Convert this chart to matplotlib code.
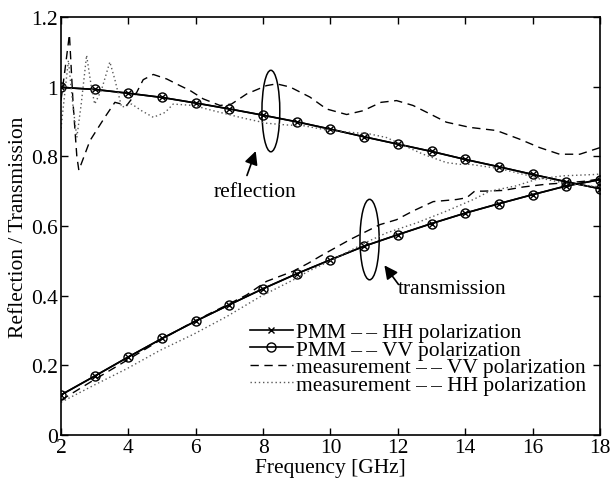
import numpy as np
import matplotlib
matplotlib.use("Agg")
from matplotlib import pyplot as plt
from matplotlib.patches import Ellipse

# frequências do modelo PMM (GHz)
freq_pmm = list(range(2, 19))

# PMM - reflexão e transmissão (HH e VV praticamente iguais)
refl_pmm = [0.998, 0.992, 0.981, 0.969, 0.953, 0.936, 0.918, 0.899, 0.878,
            0.856, 0.835, 0.814, 0.791, 0.770, 0.748, 0.727, 0.707]
trans_pmm = [0.115, 0.169, 0.224, 0.277, 0.327, 0.374, 0.420, 0.463, 0.503,
             0.542, 0.575, 0.607, 0.637, 0.664, 0.690, 0.715, 0.733]

# medição VV - reflexão
freq_refl_vv = [2.0, 2.12, 2.25, 2.36, 2.47, 2.53, 2.86, 3.3, 3.6, 3.95, 4.25, 4.44,
                4.74, 5.14, 5.53, 5.83, 6.22, 6.72, 7.06, 7.51, 8.1, 8.4, 8.8, 9.39,
                9.88, 10.48, 10.97, 11.5, 11.96, 12.45, 13.05, 13.44, 14.14, 14.93,
                15.62, 16.21, 16.8, 17.4, 18.0]
refl_vv = [0.96, 1.05, 1.15, 0.95, 0.80, 0.76, 0.845, 0.912, 0.955, 0.946, 0.984, 1.02,
           1.035, 1.022, 1.003, 0.989, 0.965, 0.946, 0.95, 0.979, 1.003, 1.008, 0.999, 0.97,
           0.936, 0.92, 0.931, 0.955, 0.96, 0.946, 0.917, 0.898, 0.883, 0.874,
           0.849, 0.825, 0.806, 0.806, 0.825]

# medição HH - reflexão
freq_refl_hh = [2.0, 2.1, 2.22, 2.35, 2.47, 2.6, 2.76, 2.9, 3.0, 3.2, 3.45, 3.6, 3.8,
                4.1, 4.39, 4.74, 5.09, 5.33, 5.93, 6.52, 7.31, 8.1, 8.7, 9.19, 9.98,
                11.17, 11.66, 12.2, 12.75, 13.44, 13.84, 14.14, 15.0, 16.0, 17.0, 18.0]
refl_hh = [0.88, 0.97, 1.075, 0.95, 0.854, 0.95, 1.09, 1.0, 0.95, 0.99, 1.071, 1.02, 0.941,
           0.95, 0.931, 0.912, 0.926, 0.95, 0.946, 0.931, 0.912, 0.895, 0.89, 0.888, 0.874,
           0.864, 0.854, 0.83, 0.806, 0.782, 0.777, 0.777, 0.765, 0.742, 0.722, 0.712]

# medição VV - transmissão
freq_trans_vv = [2.0, 2.96, 3.95, 4.94, 5.93, 6.92, 7.51, 8.1, 8.89, 9.34, 9.69, 10.58,
                 11.47, 11.96, 12.45, 13.05, 13.74, 14.04, 14.28, 14.53, 15.12, 15.72,
                 16.41, 17.0, 17.5, 18.0]
trans_vv = [0.10, 0.157, 0.214, 0.272, 0.325, 0.373, 0.402, 0.441, 0.470, 0.493, 0.513, 0.561,
            0.604, 0.618, 0.643, 0.670, 0.676, 0.681, 0.70, 0.70, 0.702, 0.712,
            0.72, 0.724, 0.728, 0.735]

# medição HH - transmissão
freq_trans_hh = [2.0, 2.96, 3.95, 4.94, 5.93, 6.92, 7.91, 8.89, 9.34, 10.0, 10.6, 11.1,
                 11.66, 12.56, 13.45, 14.24, 14.73, 15.5, 16.12, 16.9, 17.9, 18.0]
trans_hh = [0.094, 0.142, 0.190, 0.243, 0.289, 0.340, 0.397, 0.445, 0.470, 0.50, 0.53, 0.555,
            0.580, 0.609, 0.643, 0.676, 0.700, 0.715, 0.734, 0.744, 0.748, 0.75]

dd = "\u2013\u2009\u2013"
labels = ["PMM %s HH polarization" % dd,
          "PMM %s VV polarization" % dd,
          "measurement %s VV polarization" % dd,
          "measurement %s HH polarization" % dd]

plt.rcParams['font.family'] = ['Liberation Serif', 'DejaVu Serif']
plt.rcParams['font.size'] = 15.5

fig = plt.figure(figsize=(6.13, 4.81), dpi=100)
ax = fig.add_axes([0.0995, 0.0936, 0.8793, 0.869])

dash = (0, (6, 4))
dot = (0, (1, 2))

# PMM
ax.plot(freq_pmm, refl_pmm, '-', color='k', lw=1.2, marker='x', ms=4, mew=1.0, label=labels[0])
ax.plot(freq_pmm, trans_pmm, '-', color='k', lw=1.2, marker='x', ms=4, mew=1.0)
ax.plot(freq_pmm, refl_pmm, '-', color='k', lw=1.2, marker='o', ms=6.5, mfc='none', mew=1.0, label=labels[1])
ax.plot(freq_pmm, trans_pmm, '-', color='k', lw=1.2, marker='o', ms=6.5, mfc='none', mew=1.0)

# medições
ax.plot(freq_refl_vv, refl_vv, color='k', lw=1.0, linestyle=dash, label=labels[2])
ax.plot(freq_trans_vv, trans_vv, color='k', lw=1.0, linestyle=dash)
ax.plot(freq_refl_hh, refl_hh, color='0.35', lw=1.0, linestyle=dot, label=labels[3])
ax.plot(freq_trans_hh, trans_hh, color='0.35', lw=1.0, linestyle=dot)

# elipses e setas
ax.add_patch(Ellipse((8.23, 0.93), 0.53, 0.234, fill=False, lw=1.1, color='k'))
ax.add_patch(Ellipse((11.16, 0.561), 0.57, 0.231, fill=False, lw=1.1, color='k'))

arrow = dict(arrowstyle='-|>', color='k', lw=1.2, mutation_scale=20,
             shrinkA=0, shrinkB=0)
ax.annotate('', xy=(7.78, 0.815), xytext=(7.52, 0.745), arrowprops=arrow)
ax.text(7.75, 0.700, "reflection", ha='center', va='center')
ax.annotate('', xy=(11.6, 0.487), xytext=(12.02, 0.432), arrowprops=arrow)
ax.text(12.0, 0.421, "transmission", ha='left', va='center')

ax.set_xlim(2, 18)
ax.set_ylim(0, 1.2)
ax.set_xticks(range(2, 19, 2))
ax.set_yticks([0, 0.2, 0.4, 0.6, 0.8, 1.0, 1.2])
ax.set_yticklabels(["0", "0.2", "0.4", "0.6", "0.8", "1", "1.2"])
ax.tick_params(direction='in', top=True, right=True, length=5, width=1, pad=2)
for s in ax.spines.values():
    s.set_linewidth(1.2)

ax.set_xlabel("Frequency [GHz]", labelpad=1)
ax.set_ylabel("Reflection / Transmission", labelpad=2)

ax.legend(loc='upper left', bbox_to_anchor=(0.35, 0.27), frameon=False,
          handlelength=2.0, handletextpad=0.15, labelspacing=-0.12, borderpad=0,
          borderaxespad=0)

fig.savefig("out.png", dpi=100)
